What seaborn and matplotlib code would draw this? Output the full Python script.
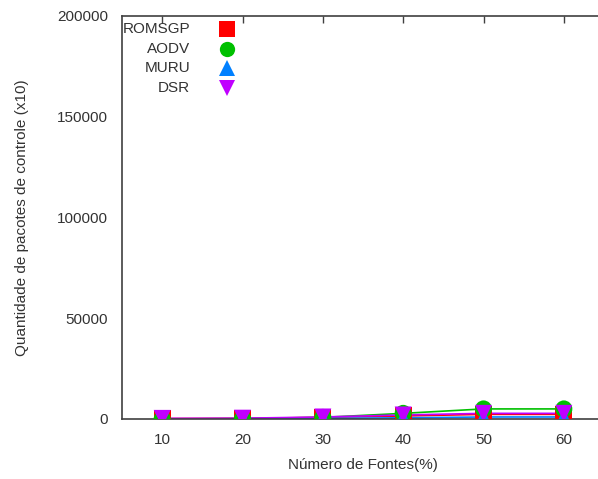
import matplotlib
matplotlib.use("Agg")
import matplotlib.pyplot as plt
from matplotlib.lines import Line2D
import seaborn as sns
import pandas as pd

# Number of sources (%) on the x axis
fontes = [10, 20, 30, 40, 50, 60]

# Control packets (x10) per protocol
romsgp = [200, 300, 800, 1500, 2300, 2300]
aodv = [0, 200, 800, 2800, 5000, 5000]
muru = [0, 100, 300, 600, 1000, 1000]
dsr = [300, 400, 1000, 2000, 2800, 2800]

protocols = ["ROMSGP", "AODV", "MURU", "DSR"]
colors = {"ROMSGP": "#ff0000", "AODV": "#00c000", "MURU": "#0080ff", "DSR": "#c000ff"}
markers = {"ROMSGP": "s", "AODV": "o", "MURU": "^", "DSR": "v"}

df = pd.DataFrame({
    "fontes": fontes * 4,
    "pacotes": romsgp + aodv + muru + dsr,
    "protocolo": [p for p in protocols for _ in fontes],
})

sns.set_theme(style="white")
plt.rcParams["font.family"] = ["Liberation Sans", "DejaVu Sans"]

fig = plt.figure(figsize=(5.98, 4.79), dpi=100)
W, H = 598, 479
ax = fig.add_axes([122 / W, 1 - 419 / H, (604 - 122) / W, (419 - 16) / H])

# connecting lines
sns.lineplot(
    data=df, x="fontes", y="pacotes", hue="protocolo",
    hue_order=protocols, palette=colors, linewidth=1.2,
    legend=False, ax=ax,
)
# point markers, one protocol after another so the last sits on top
for p in protocols:
    sns.scatterplot(
        data=df[df["protocolo"] == p], x="fontes", y="pacotes",
        color=colors[p], marker=markers[p], s=150, linewidth=0,
        edgecolor="none", legend=False, ax=ax, zorder=3,
    )

ax.set_xlim(5, 65)
ax.set_ylim(0, 200000)
ax.set_xticks(fontes)
ax.set_yticks([0, 50000, 100000, 150000, 200000])
ax.set_yticklabels(["0", "50000", "100000", "150000", "200000"])

for side in ["left", "bottom", "top", "right"]:
    ax.spines[side].set_color("#404040")
    ax.spines[side].set_linewidth(1.2)

ax.tick_params(axis="both", direction="in", length=5, width=1, color="#404040",
               labelsize=11, labelcolor="#333333", top=True, right=False)
ax.tick_params(axis="y", pad=10)
ax.tick_params(axis="x", pad=10)

ax.set_xlabel("Número de Fontes(%)", fontsize=11, color="#333333", labelpad=8)
ax.set_ylabel("Quantidade de pacotes de controle (x10)", fontsize=11, color="#333333")
ax.yaxis.set_label_coords((29 - 122) / 482, 0.5)

# Key: right-aligned labels followed by their marker
rows = [29, 49, 68, 88]
for p, y in zip(protocols, rows):
    fig.text(190 / W, 1 - y / H, p, ha="right", va="center", fontsize=11, color="#333333")
    fig.add_artist(Line2D([227 / W], [1 - y / H], transform=fig.transFigure,
                          marker=markers[p], color=colors[p], markersize=11,
                          markeredgewidth=0, linestyle="none"))

fig.savefig("out.png", dpi=100)
